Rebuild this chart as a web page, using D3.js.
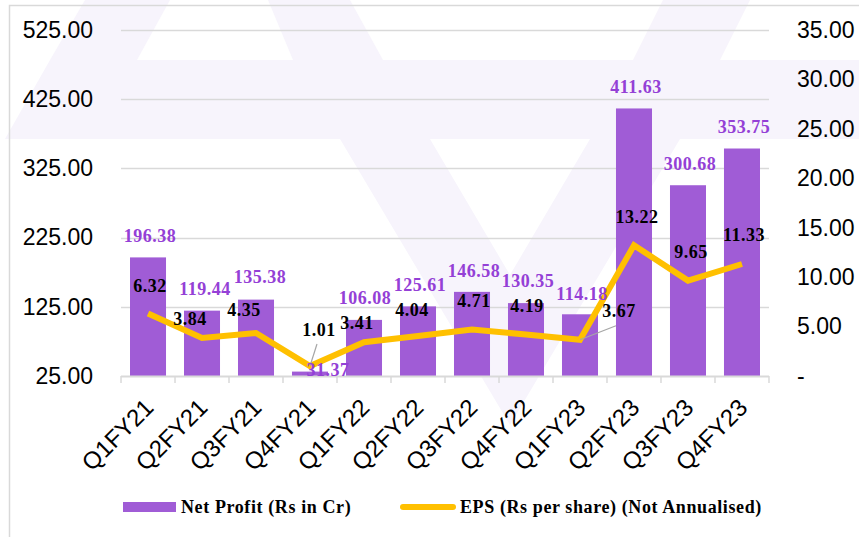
<!DOCTYPE html>
<html>
<head>
<meta charset="utf-8">
<script src="https://cdn.jsdelivr.net/npm/d3@7"></script>
<style>
  html, body { margin: 0; padding: 0; background: #fff; }
  svg { display: block; }
</style>
</head>
<body>
<script>
// quarterly results
const categories = ['Q1FY21', 'Q2FY21', 'Q3FY21', 'Q4FY21', 'Q1FY22', 'Q2FY22',
                    'Q3FY22', 'Q4FY22', 'Q1FY23', 'Q2FY23', 'Q3FY23', 'Q4FY23'];
const netProfit = [196.38, 119.44, 135.38, 31.37, 106.08, 125.61, 146.58, 130.35, 114.18, 411.63, 300.68, 353.75];
const eps       = [6.32, 3.84, 4.35, 1.01, 3.41, 4.04, 4.71, 4.19, 3.67, 13.22, 9.65, 11.33];
const leftTicks  = [25, 125, 225, 325, 425, 525];
const rightTicks = [0, 5, 10, 15, 20, 25, 30, 35];
const seriesNames = ['Net Profit (Rs in Cr)', 'EPS (Rs per share) (Not Annualised)'];

// label nudges (dx, dy)
const epsNudge = [[2, -28], [-12, -19], [-12, -23], [9, -36], [-7, -20], [-6, -26],
                  [2, -29], [1, -29], [39, -29], [3, -29], [3, -29], [2, -29]];
const profitNudge = [[2, -22], [3, -22], [4, -23], [18, -2], [1, -22], [2, -22],
                     [2, -21], [2, -22], [2, -21], [2, -22], [2, -22], [2, -22]];

const W = 859, H = 537;
const plot = { left: 121, right: 769, top: 30, bottom: 376 };

const purple = '#a05cd6';
const purpleText = '#9440d6';
const gold = '#ffc000';
const grid = '#d9d9d9';
const sans = '"Liberation Sans", Arial, sans-serif';
const serif = '"Liberation Serif", "Times New Roman", serif';

const svg = d3.select('body').append('svg')
  .attr('width', W)
  .attr('height', H);

// faint logo watermark behind the chart
const wm = svg.append('g').attr('fill', '#f7f4fc');
[
  [[85, 0], [170, 0], [137, 60], [50, 60]],
  [[268, 0], [350, 0], [383, 60], [293, 60]],
  [[663, 0], [750, 0], [720, 60], [633, 60]],
  [[50, 60], [859, 60], [859, 139], [5, 139]],
  [[340, 139], [430, 139], [510, 275], [590, 139], [680, 139], [510, 425]],
].forEach(p => wm.append('polygon').attr('points', p.map(d => d.join(',')).join(' ')));

// outer frame
svg.append('path')
  .attr('d', 'M9.5,537 V5.5 H859')
  .attr('fill', 'none')
  .attr('stroke', grid)
  .attr('stroke-width', 1.5);

const x = d3.scaleBand()
  .domain(categories)
  .range([plot.left, plot.right])
  .paddingInner(0.333)
  .paddingOuter(0.1667);

const yL = d3.scaleLinear().domain([25, 525]).range([plot.bottom, plot.top]);
const yR = d3.scaleLinear().domain([0, 35]).range([plot.bottom, plot.top]);

// gridlines
svg.append('g')
  .selectAll('line')
  .data(leftTicks.slice(1))
  .enter().append('line')
  .attr('x1', plot.left)
  .attr('x2', plot.right)
  .attr('y1', d => Math.round(yL(d)) + 0.5)
  .attr('y2', d => Math.round(yL(d)) + 0.5)
  .attr('stroke', grid)
  .attr('stroke-width', 1.5);

// left axis
const leftAxis = svg.append('g')
  .attr('transform', 'translate(' + plot.left + ',0)')
  .call(d3.axisLeft(yL).tickValues(leftTicks).tickFormat(d3.format('.2f')).tickSize(0).tickPadding(28));
leftAxis.select('.domain').remove();
leftAxis.selectAll('text').attr('font-family', sans).attr('font-size', 23).attr('fill', '#000');

// right axis
const rightAxis = svg.append('g')
  .attr('transform', 'translate(' + plot.right + ',0)')
  .call(d3.axisRight(yR).tickValues(rightTicks)
    .tickFormat(d => d === 0 ? '-' : d3.format('.2f')(d)).tickSize(0).tickPadding(28));
rightAxis.select('.domain').remove();
rightAxis.selectAll('text').attr('font-family', sans).attr('font-size', 23).attr('fill', '#000');

// bars
svg.append('g')
  .selectAll('rect')
  .data(netProfit)
  .enter().append('rect')
  .attr('x', (d, i) => x(categories[i]))
  .attr('width', x.bandwidth())
  .attr('y', d => yL(d))
  .attr('height', d => yL(25) - yL(d))
  .attr('fill', purple);

// category axis
const step = x.step();
const bounds = d3.range(categories.length + 1).map(i => x(categories[0]) - x.paddingInner() * step / 2 + i * step);
const bottom = svg.append('g');
bottom.append('line')
  .attr('x1', plot.left).attr('x2', plot.right)
  .attr('y1', plot.bottom + 0.5).attr('y2', plot.bottom + 0.5)
  .attr('stroke', grid).attr('stroke-width', 2);
bottom.selectAll('.tick')
  .data(bounds)
  .enter().append('line')
  .attr('x1', d => d).attr('x2', d => d)
  .attr('y1', plot.bottom).attr('y2', plot.bottom + 7)
  .attr('stroke', grid).attr('stroke-width', 1.5);
bottom.selectAll('text')
  .data(categories)
  .enter().append('text')
  .attr('transform', d => 'translate(' + (x(d) + x.bandwidth() / 2 + 7) + ',' + (plot.bottom + 33) + ') rotate(-45)')
  .attr('text-anchor', 'end')
  .attr('font-family', sans)
  .attr('font-size', 24)
  .attr('fill', '#000')
  .text(d => d);

// EPS line
const cx = i => x(categories[i]) + x.bandwidth() / 2;
const line = d3.line()
  .x((d, i) => cx(i))
  .y(d => yR(d));

svg.append('path')
  .datum(eps)
  .attr('d', line)
  .attr('fill', 'none')
  .attr('stroke', gold)
  .attr('stroke-width', 6)
  .attr('stroke-linejoin', 'miter');

// leader lines for the two moved labels
svg.append('g')
  .selectAll('line')
  .data([3, 8])
  .enter().append('line')
  .attr('x1', i => cx(i))
  .attr('y1', i => yR(eps[i]))
  .attr('x2', i => i === 3 ? cx(i) + 7 : cx(i) + 36)
  .attr('y2', i => i === 3 ? yR(eps[i]) - 22 : yR(eps[i]) - 14)
  .attr('stroke', '#a6a6a6')
  .attr('stroke-width', 1.2);

// net profit labels
svg.append('g')
  .selectAll('text')
  .data(netProfit)
  .enter().append('text')
  .attr('x', (d, i) => cx(i) + profitNudge[i][0])
  .attr('y', (d, i) => yL(d) + profitNudge[i][1])
  .attr('dy', '0.35em')
  .attr('text-anchor', 'middle')
  .attr('font-family', serif)
  .attr('font-weight', 'bold')
  .attr('font-size', 18)
  .attr('letter-spacing', 0.5)
  .attr('fill', purpleText)
  .text(d => d3.format('.2f')(d));

// EPS labels
svg.append('g')
  .selectAll('text')
  .data(eps)
  .enter().append('text')
  .attr('x', (d, i) => cx(i) + epsNudge[i][0])
  .attr('y', (d, i) => yR(d) + epsNudge[i][1])
  .attr('dy', '0.35em')
  .attr('text-anchor', 'middle')
  .attr('font-family', serif)
  .attr('font-weight', 'bold')
  .attr('font-size', 18)
  .attr('letter-spacing', 0.5)
  .attr('fill', '#000')
  .text(d => d3.format('.2f')(d));

// legend
const legend = svg.append('g')
  .attr('font-family', serif)
  .attr('font-weight', 'bold')
  .attr('font-size', 18)
  .attr('letter-spacing', 0.6)
  .attr('fill', '#000');
legend.append('rect')
  .attr('x', 123).attr('y', 502).attr('width', 53).attr('height', 10)
  .attr('fill', purple);
legend.append('text')
  .attr('x', 181).attr('y', 513)
  .text(seriesNames[0]);
legend.append('line')
  .attr('x1', 403).attr('x2', 453).attr('y1', 507).attr('y2', 507)
  .attr('stroke', gold).attr('stroke-width', 6).attr('stroke-linecap', 'round');
legend.append('text')
  .attr('x', 460).attr('y', 513)
  .text(seriesNames[1]);
</script>
</body>
</html>
